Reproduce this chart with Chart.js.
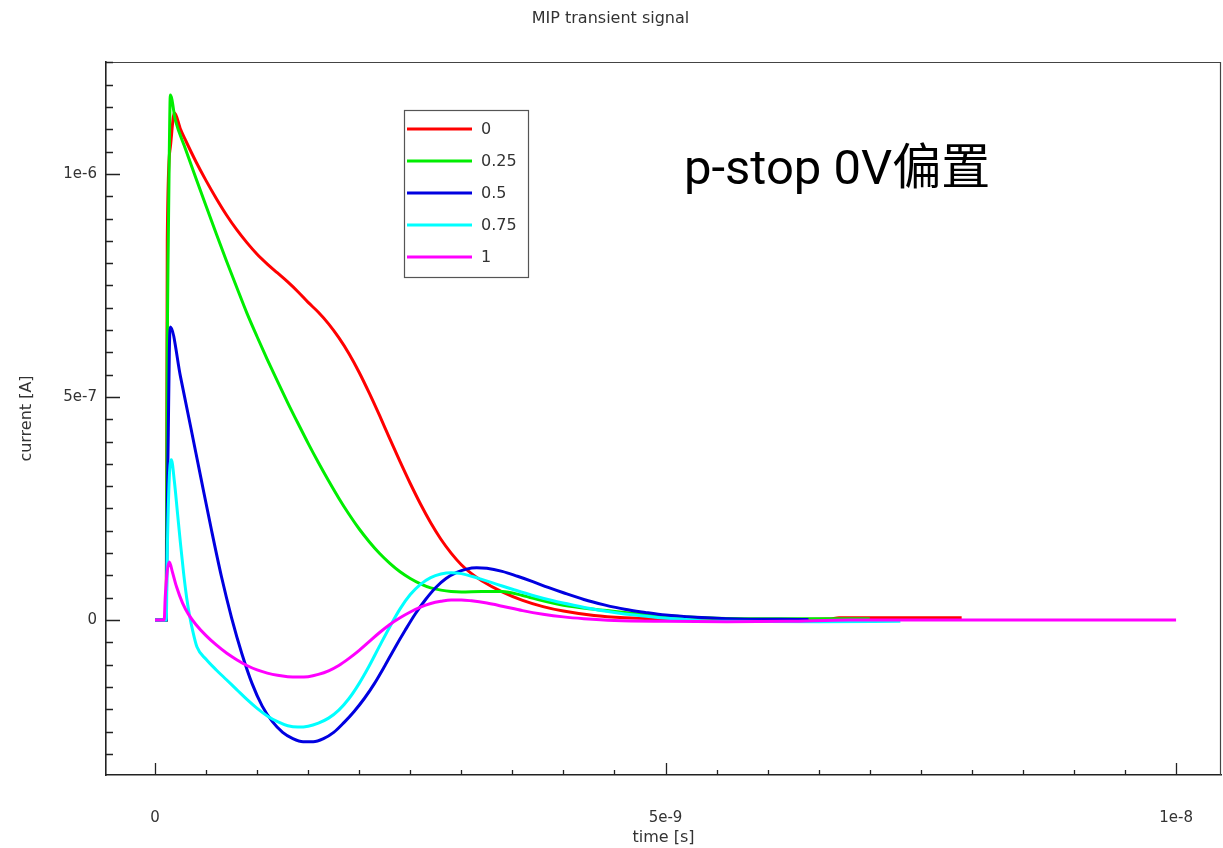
<!DOCTYPE html>
<html lang="en">
<head>
    <meta charset="UTF-8">
    <title>MIP transient signal</title>
    <style>
        * { box-sizing: border-box; margin: 0; padding: 0; }
        body { background: #ffffff; }
        .wrap { width: 1223px; height: 848px; position: relative; }
    </style>
</head>
<body>
    <div class="wrap">
        <canvas id="transientChart"></canvas>
    </div>

    <script src="https://cdn.jsdelivr.net/npm/chart.js"></script>
    <script>
        // legend labels and line colours
        const seriesNames = ['0', '0.25', '0.5', '0.75', '1'];
        const seriesColors = ['#ff0000', '#00ee00', '#0000e0', '#00ffff', '#ff00ff'];

        // time in ns, current in 1e-7 A
        const t0 = [0, 0.11, 0.12, 0.15, 0.19, 0.25, 0.3, 0.4, 0.5, 0.6, 0.7, 0.8, 0.9, 1.0, 1.1, 1.2, 1.3, 1.4, 1.5, 1.6, 1.7, 1.8, 1.9, 2.0, 2.1, 2.2, 2.3, 2.4, 2.5, 2.6, 2.7, 2.8, 2.9, 3.0, 3.1, 3.2, 3.4, 3.6, 3.8, 4.0, 4.3, 4.6, 5.0, 6.0, 6.6, 6.7, 7.9];
        const i0 = [0, 0, 8.5, 10.6, 11.37, 11.0, 10.75, 10.28, 9.85, 9.45, 9.08, 8.75, 8.46, 8.2, 7.98, 7.78, 7.58, 7.36, 7.12, 6.9, 6.64, 6.33, 5.97, 5.55, 5.08, 4.58, 4.06, 3.55, 3.06, 2.6, 2.18, 1.81, 1.5, 1.24, 1.04, 0.88, 0.63, 0.44, 0.3, 0.2, 0.1, 0.05, 0.02, 0.01, 0.02, 0.05, 0.05];

        const t25 = [0, 0.11, 0.12, 0.13, 0.14, 0.15, 0.2, 0.3, 0.4, 0.5, 0.6, 0.7, 0.8, 0.9, 1.0, 1.1, 1.2, 1.3, 1.4, 1.5, 1.6, 1.7, 1.8, 1.9, 2.0, 2.1, 2.2, 2.3, 2.4, 2.5, 2.6, 2.7, 2.8, 2.9, 3.0, 3.2, 3.4, 3.6, 3.8, 4.0, 4.3, 4.6, 4.9, 5.2, 5.5, 6.0, 7.0];
        const i25 = [0, 0, 6.2, 8.5, 10.5, 11.77, 11.2, 10.55, 9.91, 9.28, 8.66, 8.05, 7.46, 6.88, 6.35, 5.84, 5.35, 4.87, 4.41, 3.96, 3.53, 3.12, 2.73, 2.37, 2.04, 1.75, 1.49, 1.27, 1.08, 0.93, 0.81, 0.72, 0.67, 0.64, 0.63, 0.64, 0.64, 0.55, 0.43, 0.33, 0.24, 0.17, 0.11, 0.07, 0.04, 0.03, 0.03];

        const t50 = [0, 0.11, 0.12, 0.13, 0.14, 0.15, 0.25, 0.35, 0.45, 0.55, 0.65, 0.75, 0.85, 0.95, 1.05, 1.15, 1.25, 1.35, 1.45, 1.55, 1.65, 1.75, 1.85, 1.95, 2.05, 2.15, 2.25, 2.35, 2.45, 2.55, 2.65, 2.75, 2.85, 2.95, 3.05, 3.15, 3.25, 3.4, 3.55, 3.7, 3.85, 4.0, 4.2, 4.4, 4.6, 4.8, 5.0, 5.3, 5.6, 6.4];
        const i50 = [0, 0, 2.5, 4.2, 6.0, 6.57, 5.45, 4.32, 3.18, 2.05, 0.98, 0.05, -0.75, -1.42, -1.93, -2.28, -2.52, -2.66, -2.73, -2.73, -2.66, -2.52, -2.3, -2.05, -1.76, -1.42, -1.03, -0.62, -0.23, 0.14, 0.46, 0.73, 0.93, 1.06, 1.14, 1.17, 1.16, 1.09, 0.98, 0.86, 0.73, 0.61, 0.46, 0.34, 0.24, 0.17, 0.11, 0.06, 0.03, 0.01];

        const t75 = [0, 0.11, 0.12, 0.14, 0.16, 0.19, 0.22, 0.25, 0.28, 0.31, 0.34, 0.37, 0.41, 0.5, 0.6, 0.7, 0.8, 0.9, 1.0, 1.1, 1.2, 1.3, 1.4, 1.5, 1.6, 1.7, 1.8, 1.9, 2.0, 2.1, 2.2, 2.3, 2.4, 2.5, 2.6, 2.7, 2.8, 2.9, 3.0, 3.1, 3.2, 3.35, 3.5, 3.7, 3.9, 4.1, 4.3, 4.5, 4.7, 4.9, 5.2, 5.5, 6.5, 7.3];
        const i75 = [0, 0, 1.5, 3.2, 3.59, 3.1, 2.4, 1.7, 1.05, 0.5, 0.08, -0.25, -0.6, -0.88, -1.12, -1.34, -1.56, -1.78, -1.98, -2.15, -2.28, -2.37, -2.4, -2.38, -2.31, -2.2, -2.02, -1.76, -1.42, -1.02, -0.58, -0.15, 0.25, 0.57, 0.8, 0.95, 1.03, 1.06, 1.04, 0.98, 0.91, 0.8, 0.69, 0.55, 0.43, 0.33, 0.24, 0.17, 0.11, 0.06, 0.01, -0.03, -0.04, -0.03];

        const t100 = [0, 0.09, 0.1, 0.12, 0.14, 0.17, 0.21, 0.27, 0.33, 0.4, 0.5, 0.6, 0.7, 0.8, 0.9, 1.0, 1.1, 1.2, 1.3, 1.4, 1.5, 1.6, 1.7, 1.8, 1.9, 2.0, 2.1, 2.2, 2.3, 2.4, 2.5, 2.6, 2.7, 2.8, 2.9, 3.0, 3.1, 3.25, 3.4, 3.6, 3.8, 4.0, 4.2, 4.5, 5.0, 5.6, 6.2, 6.8, 10.0];
        const i100 = [0, 0, 0.5, 1.1, 1.3, 1.08, 0.75, 0.38, 0.12, -0.1, -0.35, -0.56, -0.74, -0.89, -1.02, -1.12, -1.19, -1.24, -1.27, -1.28, -1.27, -1.22, -1.14, -1.02, -0.86, -0.68, -0.48, -0.28, -0.1, 0.05, 0.18, 0.29, 0.37, 0.42, 0.45, 0.45, 0.43, 0.38, 0.31, 0.21, 0.13, 0.07, 0.03, -0.01, -0.03, -0.04, -0.03, 0, 0];

        const times = [t0, t25, t50, t75, t100];
        const currents = [i0, i25, i50, i75, i100];

        // labelled ticks
        const xTickValues = [0, 5e-9, 1e-8];
        const xTickLabels = ['0', '5e-9', '1e-8'];
        const yTickValues = [0, 5e-7, 1e-6];
        const yTickLabels = ['0', '5e-7', '1e-6'];

        const xMinor = 5e-10, yMinor = 5e-8;

        const datasets = seriesNames.map((name, k) => ({
            label: name,
            data: times[k].map((t, j) => ({ x: t * 1e-9, y: currents[k][j] * 1e-7 })),
            borderColor: seriesColors[k],
            backgroundColor: seriesColors[k],
            borderWidth: 3,
            pointRadius: 0,
            cubicInterpolationMode: 'monotone',
            order: seriesNames.length - k
        }));

        // inward ticks, frame, boxed legend and the note text
        const decorations = {
            id: 'decorations',
            afterDraw(chart) {
                const { ctx, chartArea: a, scales: { x, y } } = chart;
                ctx.save();
                ctx.strokeStyle = '#444';
                ctx.lineWidth = 1.2;
                ctx.beginPath();
                ctx.moveTo(a.left, a.top + 0.5); ctx.lineTo(a.right, a.top + 0.5);
                ctx.moveTo(a.right - 0.5, a.top); ctx.lineTo(a.right - 0.5, a.bottom);
                ctx.stroke();

                ctx.strokeStyle = '#222';
                ctx.lineWidth = 1.3;
                ctx.beginPath();
                for (let k = Math.ceil(x.min / xMinor); k <= Math.floor(x.max / xMinor + 1e-6); k++) {
                    const px = Math.round(x.getPixelForValue(k * xMinor)) + 0.5;
                    const len = k % 10 === 0 ? 12 : 5;
                    ctx.moveTo(px, a.bottom); ctx.lineTo(px, a.bottom - len);
                }
                for (let k = Math.ceil(y.min / yMinor); k <= Math.floor(y.max / yMinor + 1e-6); k++) {
                    const py = Math.round(y.getPixelForValue(k * yMinor)) + 0.5;
                    const len = k % 10 === 0 ? 14 : 7;
                    ctx.moveTo(a.left, py); ctx.lineTo(a.left + len, py);
                }
                ctx.stroke();

                // legend box
                ctx.fillStyle = '#fff';
                ctx.fillRect(404, 110, 124, 167);
                ctx.strokeStyle = '#555';
                ctx.lineWidth = 1.2;
                ctx.strokeRect(404.5, 110.5, 124, 167);
                ctx.font = '16px "DejaVu Sans"';
                ctx.textBaseline = 'middle';
                chart.data.datasets.forEach((ds, k) => {
                    const ly = 129 + k * 32;
                    ctx.strokeStyle = ds.borderColor;
                    ctx.lineWidth = 3;
                    ctx.beginPath();
                    ctx.moveTo(407, ly); ctx.lineTo(472, ly);
                    ctx.stroke();
                    ctx.fillStyle = '#333';
                    ctx.fillText(ds.label, 481, ly + 1);
                });

                ctx.fillStyle = '#000';
                ctx.textBaseline = 'alphabetic';
                ctx.font = '49px Roboto, "Noto Sans CJK SC"';
                ctx.fillText('p-stop 0V偏置', 684, 184);
                ctx.restore();
            }
        };

        const ctxChart = document.getElementById('transientChart').getContext('2d');
        const transientChart = new Chart(ctxChart, {
            type: 'line',
            data: { datasets: datasets },
            options: {
                responsive: true,
                maintainAspectRatio: false,
                animation: false,
                layout: { padding: { left: 0, right: 2, top: 0, bottom: 0 } },
                plugins: {
                    legend: { display: false },
                    tooltip: { enabled: false },
                    title: {
                        display: true,
                        text: 'MIP transient signal',
                        color: '#333',
                        font: { family: 'DejaVu Sans', size: 16, weight: 'normal' },
                        padding: { top: 9, bottom: 33.8 }
                    }
                },
                scales: {
                    x: {
                        type: 'linear',
                        min: -0.48e-9,
                        max: 10.44e-9,
                        afterFit: (scale) => {
                            scale.height = 73;
                            scale.paddingLeft = 0;
                            scale.paddingRight = 0;
                        },
                        afterBuildTicks: (scale) => { scale.ticks = xTickValues.map(v => ({ value: v })); },
                        grid: { display: false, drawTicks: false },
                        border: { display: true, color: '#222', width: 1.6 },
                        ticks: {
                            padding: 34,
                            color: '#333',
                            font: { family: 'DejaVu Sans', size: 15 },
                            maxRotation: 0,
                            autoSkip: false,
                            callback: (v, idx) => xTickLabels[idx]
                        },
                        title: {
                            display: true,
                            text: 'time [s]',
                            color: '#333',
                            font: { family: 'DejaVu Sans', size: 16 },
                            padding: { top: 0, bottom: 0.5 }
                        }
                    },
                    y: {
                        type: 'linear',
                        min: -3.475e-7,
                        max: 12.51e-7,
                        afterFit: (scale) => {
                            scale.width = 106;
                            scale.paddingTop = 0;
                            scale.paddingBottom = 0;
                        },
                        afterBuildTicks: (scale) => { scale.ticks = yTickValues.map(v => ({ value: v })); },
                        grid: { display: false, drawTicks: false },
                        border: { display: true, color: '#222', width: 1.6 },
                        ticks: {
                            padding: 9,
                            color: '#333',
                            font: { family: 'DejaVu Sans', size: 15 },
                            autoSkip: false,
                            callback: (v, idx) => yTickLabels[idx]
                        },
                        title: {
                            display: true,
                            text: 'current [A]',
                            color: '#333',
                            font: { family: 'DejaVu Sans', size: 16 },
                            padding: { top: 17.4, bottom: 0 }
                        }
                    }
                }
            },
            plugins: [decorations]
        });
    </script>
</body>
</html>
